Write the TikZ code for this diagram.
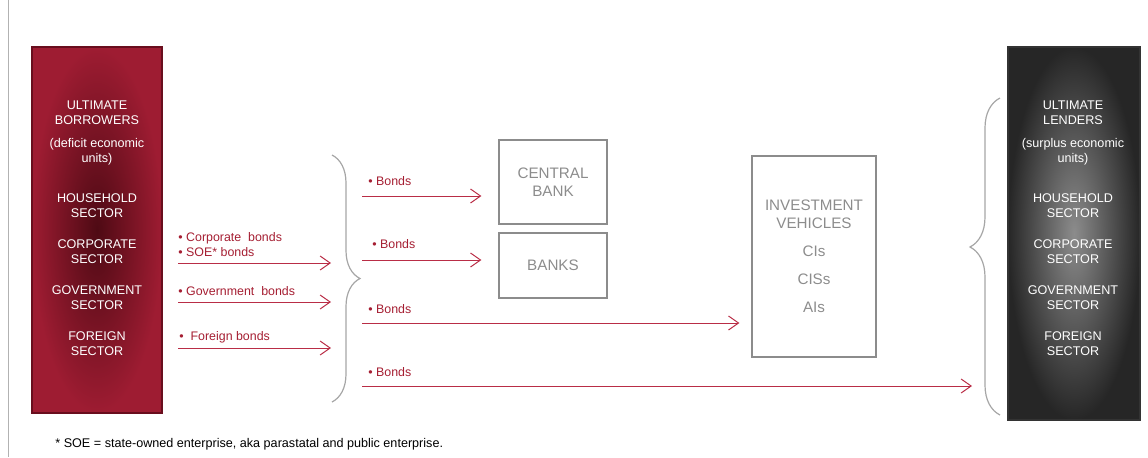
\documentclass[tikz,border=0pt]{standalone}
\usepackage{fontspec}
\setmainfont{Liberation Sans}
\usetikzlibrary{arrows.meta,decorations.pathreplacing}
\definecolor{deficitred}{RGB}{158,28,50}
\definecolor{deficitdark}{RGB}{78,10,20}
\definecolor{deficitedge}{RGB}{105,14,30}
\definecolor{bondred}{RGB}{185,45,70}
\definecolor{labelred}{RGB}{165,30,50}
\definecolor{boxgray}{RGB}{140,140,140}
\definecolor{surplusdark}{RGB}{38,38,38}
\definecolor{surpluslight}{RGB}{140,140,140}

\tikzset{
  sector/.style={text=white, align=center, inner sep=0pt,
    font=\fontsize{6.3}{7.5}\selectfont},
  bondarrow/.style={bondred, line width=0.5pt,
    -{Straight Barb[length=5pt,width=7pt]}},
  bondlabel/.style={anchor=west, text=labelred, align=left, inner sep=0pt,
    font=\fontsize{6.2}{7.5}\selectfont},
  inst/.style={draw=boxgray, line width=0.6pt, text=boxgray, align=center,
    inner sep=0pt, font=\fontsize{7.6}{9}\selectfont},
  bracket/.style={draw=gray!70, line width=0.6pt, decorate},
}

\begin{document}
\begin{tikzpicture}[x=0.5pt,y=-0.5pt]
  \useasboundingbox (0,0) rectangle (1148,457);
  \draw[gray!60, line width=0.5pt] (8,0) -- (8,457);

  % Ultimate borrowers
  \node[minimum width=65pt, minimum height=183pt, inner sep=0pt,
    inner color=deficitdark, outer color=deficitred,
    draw=deficitedge, line width=1.2pt] (borrowers) at (97,230) {};
  \node[sector] (bhead)    at (97,112.5) {ULTIMATE\\BORROWERS};
  \node[sector] (bunits)   at (97,151.5) {(deficit economic\\units)};
  \node[sector] (bhouse)   at (97,205.5) {HOUSEHOLD\\SECTOR};
  \node[sector] (bcorp)    at (97,251.5) {CORPORATE\\SECTOR};
  \node[sector] (bgov)     at (97,298)   {GOVERNMENT\\SECTOR};
  \node[sector] (bforeign) at (97,344)   {FOREIGN\\SECTOR};

  % Ultimate lenders
  \node[minimum width=66pt, minimum height=186.5pt, inner sep=0pt,
    inner color=surpluslight, outer color=surplusdark,
    draw=black!80, line width=1.2pt] (lenders) at (1074,233.5) {};
  \node[sector] (lhead)    at (1073,112.5) {ULTIMATE\\LENDERS};
  \node[sector] (lunits)   at (1073,151.5) {(surplus economic\\units)};
  \node[sector] (lhouse)   at (1073,205.5) {HOUSEHOLD\\SECTOR};
  \node[sector] (lcorp)    at (1073,251.5) {CORPORATE\\SECTOR};
  \node[sector] (lgov)     at (1073,298)   {GOVERNMENT\\SECTOR};
  \node[sector] (lforeign) at (1073,344)   {FOREIGN\\SECTOR};

  % Intermediaries
  \node[inst, minimum width=54pt, minimum height=42pt] (cb) at (553,182)
    {CENTRAL\\BANK};
  \node[inst, minimum width=54pt, minimum height=32.5pt] (banks) at (553,265.5)
    {BANKS};
  \node[inst, minimum width=62pt, minimum height=100.5pt] (iv) at (814,256.5)
    {INVESTMENT\\VEHICLES\\[5pt]CIs\\[5pt]CISs\\[5pt]AIs};

  % Braces
  \draw[bracket, decoration={brace, amplitude=14pt}] (332,155) -- (332,402);
  \draw[bracket, decoration={brace, amplitude=15pt, aspect=0.53}]
    (1000,415) -- (1000,98);

  % Issues from borrowers
  \coordinate (cs) at (178,263);  \coordinate (ce) at (331,263);
  \coordinate (gs) at (178,302);  \coordinate (ge) at (331,302);
  \coordinate (fs) at (178,348);  \coordinate (fe) at (331,348);
  \node[bondlabel] (lcorpb) at (178,244.5)
    {\textbullet\ Corporate\ \ bonds\\\textbullet\ SOE* bonds};
  \node[bondlabel] (lgovb) at (178,291) {\textbullet\ Government\ \ bonds};
  \node[bondlabel] (lforb) at (179,337) {\textbullet\ \ Foreign bonds};
  \draw[bondarrow] (cs) -- (ce);
  \draw[bondarrow] (gs) -- (ge);
  \draw[bondarrow] (fs) -- (fe);

  % Bonds to holders
  \coordinate (k1) at (362,196);
  \coordinate (k2) at (362,260);
  \coordinate (k3) at (362,323);
  \coordinate (k4) at (362,386);  \coordinate (k4e) at (972,386);
  \node[bondlabel] (lb1) at (368,181) {\textbullet\ Bonds};
  \node[bondlabel] (lb2) at (372,244) {\textbullet\ Bonds};
  \node[bondlabel] (lb3) at (368,309) {\textbullet\ Bonds};
  \node[bondlabel] (lb4) at (368,372) {\textbullet\ Bonds};
  \draw[bondarrow, shorten >=8.5pt] (k1) -- (k1 -| cb.west);
  \draw[bondarrow, shorten >=8.5pt] (k2) -- (k2 -| banks.west);
  \draw[bondarrow, shorten >=6pt] (k3) -- (k3 -| iv.west);
  \draw[bondarrow] (k4) -- (k4e);

  % Footnote
  \node[anchor=west, inner sep=0pt, font=\fontsize{6.3}{7}\selectfont] (note)
    at (55,444.5) {* SOE = state-owned enterprise, aka parastatal and public enterprise.};
\end{tikzpicture}
\end{document}
